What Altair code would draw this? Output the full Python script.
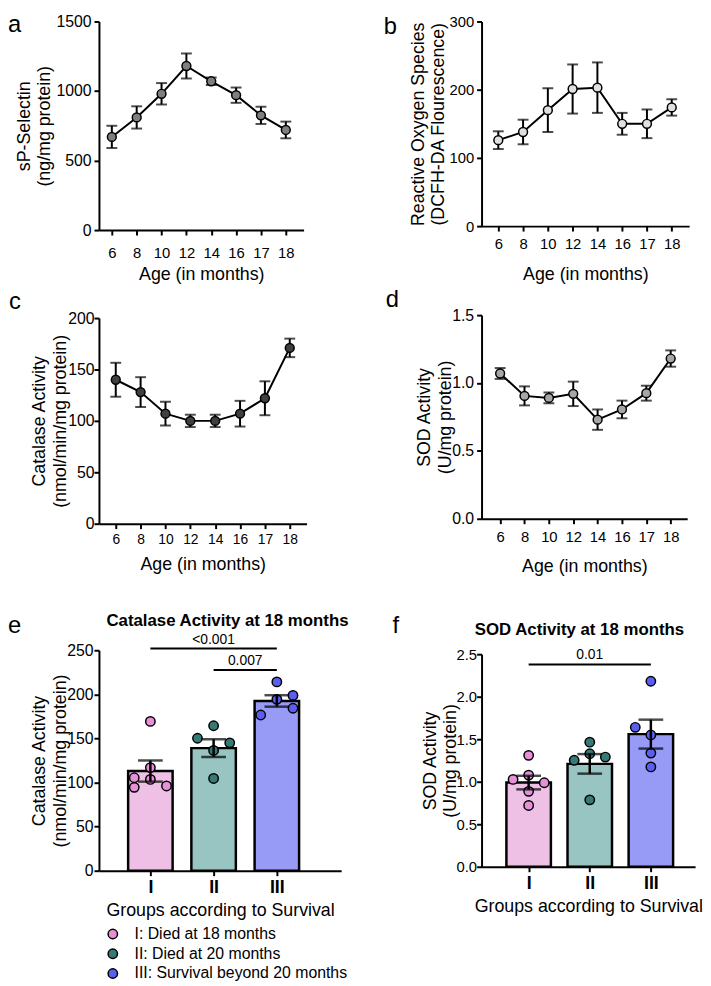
import altair as alt
import pandas as pd

FONT = "Liberation Sans"

# ---------------- data ----------------
ages = ["6", "8", "10", "12", "14", "16", "17", "18"]

selectin_mean = [670, 810, 980, 1180, 1070, 970, 825, 720]
selectin_sem = [80, 80, 77, 90, 27, 55, 62, 60]

ros_mean = [126, 138, 170, 201, 203, 150, 150, 174]
ros_sem = [13, 18, 32, 36, 37, 16, 21, 12]

catalase_mean = [140, 128, 107, 100, 100, 107, 122, 171]
catalase_sem = [16.5, 14.5, 11.5, 6, 6, 12.5, 16.5, 9]

sod_mean = [1.07, 0.905, 0.89, 0.92, 0.73, 0.805, 0.925, 1.18]
sod_sem = [0.04, 0.07, 0.04, 0.09, 0.075, 0.065, 0.055, 0.06]

groups = ["I", "II", "III"]
group_labels = ["I: Died at 18 months", "II: Died at 20 months",
                "III: Survival beyond 20 months"]

cat18_mean = [113, 139, 192.5]
cat18_sem = [12, 10, 6.5]
cat18_I = [169.3, 116.9, 105.4, 103.5, 94.5, 96.1]
cat18_II = [164.4, 150.2, 145.0, 136.4, 104.6]
cat18_III = [214.1, 198.8, 194.3, 176.6, 184.2]
cat18_I_slot = [0, 0, -1, 0, -1, 1]
cat18_II_slot = [0, -1, 1, 0, 0]
cat18_III_slot = [0, 1, 0, -1, 1]

sod18_mean = [0.99, 1.21, 1.56]
sod18_sem = [0.08, 0.115, 0.17]
sod18_I = [1.31, 1.027, 1.078, 0.988, 0.887, 0.721]
sod18_II = [1.465, 1.252, 1.329, 1.29, 0.787]
sod18_III = [2.182, 1.64, 1.55, 1.337, 1.174]
sod18_I_slot = [0, -1, 0, 1, 0, 0]
sod18_II_slot = [0, -1, 0, 1, 0]
sod18_III_slot = [0, -1, 0, 0, 0]

cat18_sig_from = ["I", "II"]
cat18_sig_to = ["III", "III"]
cat18_sig_level = [252, 227.5]
cat18_sig_text = ["<0.001", "0.007"]

sod18_sig_from = ["I"]
sod18_sig_to = ["III"]
sod18_sig_level = [2.38]
sod18_sig_text = ["0.01"]

# ---------------- styles ----------------
bar_fills = ["#eec0e6", "#98c4c2", "#979bf6"]
point_fills = ["#e590d8", "#367a75", "#5a5ff2"]


def letter_layer(letter, dx, dy):
    return alt.Chart(pd.DataFrame({"t": [letter]})).mark_text(
        align="left", baseline="alphabetic", fontSize=24, font=FONT, color="black"
    ).encode(text="t:N", x=alt.value(dx), y=alt.value(dy))


def line_panel(values, sems, fill, ydomain, yticks, ytitle, width, height,
               pad, align, letter, lx, ly, yfmt="d", yrange=None,
               xlab_size=15, xlab_pad=9, xtitle_pad=4, ytitle_pad=2, ylab_size=16,
               ylab_pad=3):
    df = pd.DataFrame({"age": ages, "mean": values, "sem": sems})
    base = alt.Chart(df).transform_calculate(
        lo="datum.mean - datum.sem", hi="datum.mean + datum.sem")
    sc = dict(domain=ydomain, nice=False, zero=True)
    if yrange is not None:
        sc["range"] = yrange
    yscale = alt.Scale(**sc)
    yaxis = alt.Axis(values=yticks, format=yfmt, title=ytitle, titleLineHeight=21,
                     titlePadding=ytitle_pad, labelFontSize=ylab_size, labelPadding=ylab_pad)
    x = alt.X("age:O", sort=ages,
              scale=alt.Scale(type="point", padding=pad, align=align),
              axis=alt.Axis(title="Age (in months)", labelAngle=0,
                            labelFontSize=xlab_size, labelPadding=xlab_pad,
                            titlePadding=xtitle_pad))

    def Y(f):
        return alt.Y(f, scale=yscale, axis=yaxis)

    rule = base.mark_rule(color="black", strokeWidth=2).encode(
        x=x, y=Y("lo:Q"), y2="hi:Q")
    cap_lo = base.mark_tick(color="black", thickness=2, size=11).encode(x=x, y=Y("lo:Q"))
    cap_hi = base.mark_tick(color="black", thickness=2, size=11).encode(x=x, y=Y("hi:Q"))
    line = base.mark_line(color="black", strokeWidth=2).encode(x=x, y=Y("mean:Q"))
    pts = base.mark_point(shape="circle", filled=True, fill=fill, stroke="black",
                          strokeWidth=1.5, size=80, opacity=1).encode(x=x, y=Y("mean:Q"))
    return alt.layer(rule, cap_lo, cap_hi, line, pts,
                     letter_layer(letter, lx, ly)).properties(width=width, height=height)


def bar_panel(means, sems, pts_lists, slot_lists, sig_from, sig_to, sig_level, sig_text,
              ydomain, yticks, yfmt, ytitle, width, height, yrange, xdomain, title,
              tx, ty, letter, lx, ly, ylab_size=16, ytitle_pad=1, ylab_pad=3):
    bars = pd.DataFrame({"group": groups, "label": group_labels,
                         "pos": [groups.index(g) + 1 for g in groups],
                         "mean": means, "sem": sems})
    rows = []
    for g, lab, vals, slots in zip(groups, group_labels, pts_lists, slot_lists):
        for v, s in zip(vals, slots):
            rows.append({"group": g, "label": lab, "pos": groups.index(g) + 1,
                         "value": v, "slot": s})
    pts = pd.DataFrame(rows)
    sig = pd.DataFrame({"p1": [groups.index(g) + 1 for g in sig_from],
                        "p2": [groups.index(g) + 1 for g in sig_to],
                        "level": sig_level, "txt": sig_text})

    yscale = alt.Scale(domain=ydomain, nice=False, zero=True, range=yrange)
    yaxis = alt.Axis(values=yticks, format=yfmt, title=ytitle, titleLineHeight=21,
                     titlePadding=ytitle_pad, labelFontSize=ylab_size, labelPadding=ylab_pad)
    xscale = alt.Scale(domain=xdomain, nice=False, zero=False)
    label_expr = "[" + ",".join(["''"] + ["'%s'" % g for g in groups]) + "][datum.value]"
    xaxis = alt.Axis(values=[1, 2, 3], labelExpr=label_expr,
                     title="Groups according to Survival", labelFontWeight="bold",
                     labelFontSize=18, labelPadding=3, titlePadding=5, labelFlush=False)

    def X(f):
        return alt.X(f, scale=xscale, axis=xaxis)

    def Y(f):
        return alt.Y(f, scale=yscale, axis=yaxis)

    bchart = alt.Chart(bars)
    b = bchart.mark_bar(size=45, orient="vertical", stroke="black", strokeWidth=2.5).encode(
        x=X("pos:Q"), y=Y("mean:Q"),
        fill=alt.Fill("group:N", scale=alt.Scale(domain=groups, range=bar_fills), legend=None))
    p = alt.Chart(pts).transform_calculate(xp="datum.pos + datum.slot * 0.255").mark_point(
        shape="circle", filled=True, stroke="black", strokeWidth=1.5, size=90, opacity=1
    ).encode(
        x=X("xp:Q"), y=Y("value:Q"),
        color=alt.Color("label:N", scale=alt.Scale(domain=group_labels, range=point_fills),
                        legend=alt.Legend(orient="none", legendX=6, legendY=915, title=None,
                                          labelFontSize=16, labelFont=FONT, symbolSize=90,
                                          symbolType="circle", symbolStrokeColor="black",
                                          symbolStrokeWidth=1.5, labelOffset=14,
                                          rowPadding=4, labelColor="black", labelLimit=0)))
    eb = bchart.transform_calculate(lo="datum.mean - datum.sem", hi="datum.mean + datum.sem")
    rule = eb.mark_rule(color="black", strokeWidth=2.5).encode(x=X("pos:Q"), y=Y("lo:Q"), y2="hi:Q")
    clo = eb.mark_tick(color="black", thickness=2.5, size=25, orient="horizontal").encode(
        x=X("pos:Q"), y=Y("lo:Q"))
    chi = eb.mark_tick(color="black", thickness=2.5, size=25, orient="horizontal").encode(
        x=X("pos:Q"), y=Y("hi:Q"))
    sbase = alt.Chart(sig)
    srule = sbase.mark_rule(color="black", strokeWidth=2).encode(
        x=X("p1:Q"), x2="p2:Q", y=Y("level:Q"))
    stext = sbase.transform_calculate(mid="(datum.p1 + datum.p2) / 2").mark_text(
        fontSize=14, font=FONT, baseline="alphabetic", dy=-5, color="black").encode(
        x=X("mid:Q"), y=Y("level:Q"), text="txt:N")
    ttl = alt.Chart(pd.DataFrame({"t": [title]})).mark_text(
        fontSize=17, fontWeight="bold", font=FONT, align="center", baseline="alphabetic",
        color="black").encode(text="t:N", x=alt.value(tx), y=alt.value(ty))
    return alt.layer(b, p, rule, clo, chi, srule, stext, ttl,
                     letter_layer(letter, lx, ly)).properties(width=width, height=height)


pa = line_panel(selectin_mean, selectin_sem, "#7f7f7f", [0, 1500], [0, 500, 1000, 1500],
                ["sP-Selectin", "(ng/mg protein)"], 207, 211, 0.617, 0.42, "a", -92, 11,
                xlab_pad=11, xtitle_pad=5, ytitle_pad=2)
pb = line_panel(ros_mean, ros_sem, "#e0e0e0", [0, 300], [0, 100, 200, 300],
                ["Reactive Oxygen Species", "(DCFH-DA Flourescence)"], 210, 207, 0.69, 0.49,
                "b", -99, 13, xlab_pad=6, xtitle_pad=14, ytitle_pad=1, ylab_size=15)
pc = line_panel(catalase_mean, catalase_sem, "#3f3f3f", [0, 200], [0, 50, 100, 150, 200],
                ["Catalase Activity", "(nmol/min/mg protein)"], 210, 211, 0.676, 0.5, "c",
                -91, -6, yrange=[211, 3], xlab_size=14, xlab_pad=4, xtitle_pad=9,
                ytitle_pad=-2, ylab_pad=0)
pd_ = line_panel(sod_mean, sod_sem, "#a6a6a6", [0, 1.5], [0, 0.5, 1.0, 1.5],
                 ["SOD Activity", "(U/mg protein)"], 208, 206, 0.72, 0.53, "d", -97, -8,
                 yfmt=".1f", xlab_pad=6, xtitle_pad=13, ytitle_pad=-3, ylab_size=16)

pe = bar_panel(cat18_mean, cat18_sem, [cat18_I, cat18_II, cat18_III],
               [cat18_I_slot, cat18_II_slot, cat18_III_slot],
               cat18_sig_from, cat18_sig_to, cat18_sig_level, cat18_sig_text,
               [0, 250], [0, 50, 100, 150, 200, 250], "d",
               ["Catalase Activity", "(nmol/min/mg protein)"], 245, 265, [265, 42],
               [0.265, 3.939], "Catalase Activity at 18 months", 130, 17, "e", -92, 25,
               ytitle_pad=-3, ylab_pad=1)
pf = bar_panel(sod18_mean, sod18_sem, [sod18_I, sod18_II, sod18_III],
               [sod18_I_slot, sod18_II_slot, sod18_III_slot],
               sod18_sig_from, sod18_sig_to, sod18_sig_level, sod18_sig_text,
               [0, 2.5], [0, 0.5, 1.0, 1.5, 2.0, 2.5], ".1f",
               ["SOD Activity", "(U/mg protein)"], 216, 261, [261, 46],
               [0.31, 3.643], "SOD Activity at 18 months", 99, 27, "f", -90, 25,
               ylab_size=15, ytitle_pad=-4, ylab_pad=0)

chart = alt.concat(pa, pb, pc, pd_, pe, pf, columns=2,
                   spacing={"row": 86, "column": 142}, bounds="flush").properties(
    padding={"left": 0, "top": 0, "right": 0, "bottom": 0},
    autosize=alt.AutoSizeParams(type="pad")
).configure_view(stroke=None).configure_axis(
    grid=False, domainColor="black", domainWidth=2, tickColor="black", tickWidth=2,
    tickSize=5, labelColor="black", titleColor="black", labelFont=FONT, titleFont=FONT,
    titleFontWeight="normal", titleFontSize=18, labelFontSize=15
).configure_text(font=FONT)

chart.save("out.html", embed_options={"renderer": "svg", "actions": False})
